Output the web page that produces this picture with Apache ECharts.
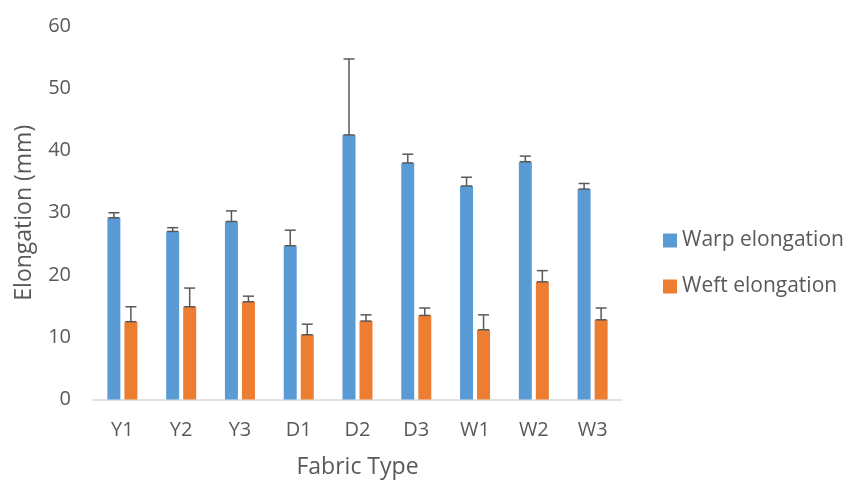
<!DOCTYPE html>
<html><head><meta charset="utf-8">
<script src="https://cdn.jsdelivr.net/npm/echarts@6/dist/echarts.min.js"></script>
<style>html,body{margin:0;padding:0;background:#fff}#c{width:848px;height:482px}</style>
</head><body><div id="c"></div>
<script>
const categories = ['Y1','Y2','Y3','D1','D2','D3','W1','W2','W3'];
const warp = [29.2, 27.0, 28.6, 24.7, 42.5, 38.0, 34.3, 38.2, 33.8];
const warpErr = [0.8, 0.6, 1.7, 2.5, 12.2, 1.4, 1.4, 0.9, 0.9];
const weft = [12.5, 14.9, 15.7, 10.4, 12.6, 13.5, 11.2, 18.9, 12.8];
const weftErr = [2.4, 3.0, 0.9, 1.7, 1.0, 1.2, 2.4, 1.8, 1.9];
const yTicks = [0, 10, 20, 30, 40, 50, 60];

const FONT = '"Open Sans", "Liberation Sans", sans-serif';
const TXT = '#595959';
const BW = 13, OFF = 8.5;

function errSeries(vals, errs, offset) {
  return {
    type: 'custom',
    z: 5,
    data: vals.map((v, i) => [i, v, v + errs[i]]),
    renderItem: function (params, api) {
      const lo = api.coord([api.value(0), api.value(1)]);
      const hi = api.coord([api.value(0), api.value(2)]);
      const x = lo[0] + offset, hw = 5.5;
      const st = { stroke: '#595959', lineWidth: 1.5 };
      return { type: 'group', children: [
        { type: 'line', shape: { x1: x, y1: lo[1], x2: x, y2: hi[1] }, style: st },
        { type: 'line', shape: { x1: x - hw, y1: hi[1], x2: x + hw, y2: hi[1] }, style: st },
        { type: 'line', shape: { x1: x - hw, y1: lo[1], x2: x + hw, y2: lo[1] }, style: st }
      ]};
    }
  };
}

const chart = echarts.init(document.getElementById('c'));
chart.setOption({
  animation: false,
  textStyle: { fontFamily: FONT },
  grid: { left: 93, right: 226, top: 26, bottom: 82.5, containLabel: false, outerBoundsMode: 'none' },
  legend: {
    orient: 'vertical', left: 658, top: 225, itemGap: 25,
    itemWidth: 14, itemHeight: 14, icon: 'rect',
    data: ['Warp elongation', 'Weft elongation'],
    textStyle: { fontSize: 21, color: TXT, fontFamily: FONT }
  },
  xAxis: {
    type: 'category', data: categories,
    name: 'Fabric Type', nameLocation: 'middle', nameGap: 56,
    nameTextStyle: { fontSize: 23, color: TXT, fontFamily: FONT },
    axisLine: { lineStyle: { color: '#d9d9d9', width: 1.5 } },
    axisTick: { show: false },
    axisLabel: { fontSize: 20, color: TXT, margin: 21, fontFamily: FONT }
  },
  yAxis: {
    type: 'value', min: yTicks[0], max: yTicks[yTicks.length - 1], interval: 10,
    name: 'Elongation (mm)', nameLocation: 'middle', nameGap: 57,
    nameTextStyle: { fontSize: 23, color: TXT, fontFamily: FONT },
    axisLine: { show: false }, axisTick: { show: false },
    splitLine: { show: false },
    axisLabel: { fontSize: 20, color: TXT, margin: 22, fontFamily: FONT }
  },
  series: [
    { name: 'Warp elongation', type: 'bar', data: warp, barWidth: BW, barGap: '31%',
      itemStyle: { color: '#5b9bd5' } },
    { name: 'Weft elongation', type: 'bar', data: weft, barWidth: BW,
      itemStyle: { color: '#ed7d31' } },
    errSeries(warp, warpErr, -OFF),
    errSeries(weft, weftErr, OFF)
  ]
});
</script></body></html>
